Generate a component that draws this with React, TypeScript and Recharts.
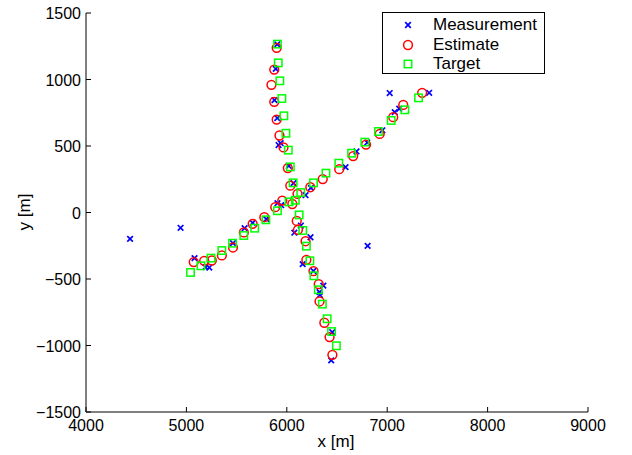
import { ScatterChart, Scatter, XAxis, YAxis, Label } from "recharts";

// measured positions, incl. a few clutter returns
const measurements: [number, number][] = [
  [4439, -198], [4942, -115], [6805, -251], [7025, 898],
  [5081, -343], [5190, -411], [5228, -414], [5464, -231], [5580, -118],
  [5660, -78], [5796, -50], [5907, 70], [5944, 55], [6187, 130], [6240, 185],
  [6585, 341], [6694, 459], [6801, 526], [6952, 618], [7075, 755],
  [7120, 780], [7418, 900],
  [5905, 1264], [5890, 1080], [5877, 845], [5905, 710], [5918, 507],
  [5939, 521], [6020, 350], [6067, 221], [6140, -98], [6075, -152],
  [6236, -186], [6158, -388], [6265, -440], [6364, -550], [6326, -599],
  [6330, -620], [6453, -900], [6442, -1112],
];

const estimatesA: [number, number][] = [
  [5899, 1238], [5875, 1075], [5847, 960], [5875, 832], [5899, 699],
  [5927, 579], [5967, 489], [6010, 334], [6035, 202], [6055, 64],
  [6099, -63], [6111, -130], [6187, -216], [6195, -356], [6266, -441],
  [6318, -539], [6326, -669], [6374, -829], [6426, -937], [6454, -1070],
];

const estimatesB: [number, number][] = [
  [5073, -373], [5177, -363], [5253, -361], [5353, -323], [5464, -263],
  [5572, -150], [5660, -85], [5776, -35], [5885, 40], [5955, 90],
  [6107, 140], [6234, 190], [6358, 251], [6522, 326], [6661, 424],
  [6789, 511], [6925, 591], [7060, 717], [7160, 809], [7348, 900],
];

const targetsA: [number, number][] = [
  [5907, 1266], [5915, 1125], [5931, 990], [5951, 857], [5971, 727],
  [5991, 596], [6015, 469], [6035, 343], [6063, 223], [6085, 92],
  [6123, -18], [6159, -135], [6195, -253], [6230, -363], [6270, -476],
  [6314, -581], [6354, -689], [6402, -799], [6446, -895], [6494, -1002],
];

const targetsB: [number, number][] = [
  [5041, -451], [5145, -401], [5245, -343], [5353, -286], [5460, -231],
  [5572, -173], [5680, -118], [5792, -55], [5907, 13], [6023, 80],
  [6139, 150], [6266, 223], [6390, 296], [6518, 371], [6645, 446],
  [6777, 529], [6913, 609], [7040, 692], [7176, 772], [7312, 862],
];

const xTicks = [4000, 5000, 6000, 7000, 8000, 9000];
const yTicks = [-1500, -1000, -500, 0, 500, 1000, 1500];

const toPts = (arr: [number, number][]) => arr.map(([x, y]) => ({ x, y }));

const FONT = '"Liberation Sans", Arial, Helvetica, sans-serif';
const BLUE = "#0000ff";
const RED = "#ff0000";
const GREEN = "#00ff00";

const CrossShape = (p: any) => (
  <path
    d={`M${p.cx - 2.8},${p.cy - 2.8}L${p.cx + 2.8},${p.cy + 2.8}M${p.cx - 2.8},${p.cy + 2.8}L${p.cx + 2.8},${p.cy - 2.8}`}
    stroke={BLUE}
    strokeWidth={1.7}
    fill="none"
  />
);

const CircleShape = (p: any) => (
  <circle cx={p.cx} cy={p.cy} r={4.4} stroke={RED} strokeWidth={1.5} fill="none" />
);

const SquareShape = (p: any) => (
  <rect x={p.cx - 3.7} y={p.cy - 3.7} width={7.4} height={7.4} stroke={GREEN} strokeWidth={1.5} fill="none" />
);

const fmt = (v: number) => (v < 0 ? "\u2212" + Math.abs(v) : String(v));

const XTick = (p: any) => (
  <g>
    <line x1={p.x} y1={p.y} x2={p.x} y2={p.y - 5} stroke="#000" />
    <text x={p.x} y={p.y + 19} textAnchor="middle" fontFamily={FONT} fontSize={16} fill="#000">
      {fmt(p.payload.value)}
    </text>
  </g>
);

const YTick = (p: any) => (
  <g>
    <line x1={p.x} y1={p.y} x2={p.x + 5} y2={p.y} stroke="#000" />
    <text x={p.x - 5} y={p.y + 6} textAnchor="end" fontFamily={FONT} fontSize={16} fill="#000">
      {fmt(p.payload.value)}
    </text>
  </g>
);

const legendItems = [
  { name: "Measurement", shape: "x", color: BLUE },
  { name: "Estimate", shape: "o", color: RED },
  { name: "Target", shape: "s", color: GREEN },
];

const LegendBox = () => (
  <div
    style={{
      position: "absolute",
      left: 382,
      top: 12,
      width: 161,
      height: 60,
      border: "1.5px solid #000",
      background: "#fff",
      fontFamily: FONT,
      fontSize: 17,
    }}
  >
    {legendItems.map((it, i) => (
      <div key={it.name} style={{ position: "absolute", left: 0, top: 2 + i * 19.5, height: 20, display: "flex", alignItems: "center" }}>
        <svg width={50} height={20}>
          {it.shape === "x" && CrossShape({ cx: 25, cy: 10 })}
          {it.shape === "o" && CircleShape({ cx: 25, cy: 10 })}
          {it.shape === "s" && SquareShape({ cx: 25, cy: 10 })}
        </svg>
        <span style={{ lineHeight: "20px" }}>{it.name}</span>
      </div>
    ))}
  </div>
);

export default function App() {
  return (
    <div style={{ position: "relative", width: 632, height: 455, background: "#fff" }}>
      <style>{`body{margin:0}`}</style>
      <ScatterChart width={632} height={455} margin={{ top: 13, right: 44, bottom: 0, left: 0 }}>
        <XAxis
          type="number"
          dataKey="x"
          domain={[4000, 9000]}
          ticks={xTicks}
          height={43}
          tickSize={0}
          tickMargin={0}
          tick={XTick}
          axisLine={{ stroke: "#000" }}
          allowDataOverflow
        >
          <Label
            content={() => (
              <text x={336} y={447} textAnchor="middle" fontFamily={FONT} fontSize={17} fill="#000">
                x [m]
              </text>
            )}
          />
        </XAxis>
        <YAxis
          type="number"
          dataKey="y"
          domain={[-1500, 1500]}
          ticks={yTicks}
          width={86}
          tickSize={0}
          tickMargin={0}
          tick={YTick}
          axisLine={{ stroke: "#000" }}
          allowDataOverflow
        >
          <Label
            content={() => (
              <text x={30} y={212} textAnchor="middle" fontFamily={FONT} fontSize={17} fill="#000" transform="rotate(-90 30 212)">
                y [m]
              </text>
            )}
          />
        </YAxis>
        <Scatter name="Measurement" data={toPts(measurements)} shape={CrossShape} isAnimationActive={false} />
        <Scatter name="Estimate" data={toPts(estimatesA)} shape={CircleShape} isAnimationActive={false} />
        <Scatter name="Estimate B" data={toPts(estimatesB)} shape={CircleShape} isAnimationActive={false} />
        <Scatter name="Target" data={toPts(targetsA)} shape={SquareShape} isAnimationActive={false} />
        <Scatter name="Target B" data={toPts(targetsB)} shape={SquareShape} isAnimationActive={false} />
      </ScatterChart>
      <LegendBox />
    </div>
  );
}
